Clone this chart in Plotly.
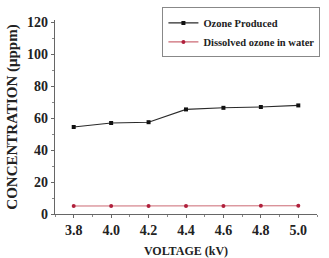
import plotly.graph_objects as go

voltage = [3.8, 4.0, 4.2, 4.4, 4.6, 4.8, 5.0]
ozone_produced = [54.5, 57.0, 57.5, 65.5, 66.5, 67.0, 68.0]
dissolved_ozone = [5.0, 5.0, 5.0, 5.0, 5.0, 5.1, 5.2]
x_ticks = [3.8, 4.0, 4.2, 4.4, 4.6, 4.8, 5.0]
x_tick_labels = ["3.8", "4.0", "4.2", "4.4", "4.6", "4.8", "5.0"]
y_ticks = [0, 20, 40, 60, 80, 100, 120]

font_family = "Liberation Serif, Times New Roman, serif"

fig = go.Figure()
fig.add_trace(go.Scatter(
    x=voltage, y=ozone_produced, mode="lines+markers", name="<b>Ozone Produced</b>",
    line=dict(color="#2a2a2a", width=1.1),
    marker=dict(symbol="square", size=4, color="#111111"),
))
fig.add_trace(go.Scatter(
    x=voltage, y=dissolved_ozone, mode="lines+markers", name="<b>Dissolved ozone in water</b>",
    line=dict(color="#cc6a74", width=1.1),
    marker=dict(symbol="circle", size=4, color="#b0203c"),
))

axis_common = dict(
    showline=True, linecolor="#666666", linewidth=1.2,
    ticks="outside", ticklen=3, tickcolor="#666666", tickwidth=1,
    showgrid=False, zeroline=False, mirror=False, automargin=False,
    tickfont=dict(family=font_family, size=14, color="#222222"),
    minor=dict(ticks="outside", ticklen=2, tickcolor="#888888"),
)

fig.update_layout(
    width=329, height=258,
    margin=dict(l=55, r=12, t=20, b=44, autoexpand=False),
    paper_bgcolor="white", plot_bgcolor="white",
    font=dict(family=font_family, color="#222222"),
    xaxis=dict(range=[3.7, 5.1], tickvals=x_ticks, ticktext=[f"<b>{t}</b>" for t in x_tick_labels],
               title=dict(text="<b>VOLTAGE (kV)</b>", font=dict(family=font_family, size=12), standoff=11),
               **axis_common),
    yaxis=dict(range=[0, 121.5], tickvals=y_ticks, ticktext=[f"<b>{t}</b>" for t in y_ticks],
               title=dict(text="<b>CONCENTRATION (μppm)</b>", font=dict(family=font_family, size=15), standoff=5),
               **axis_common),
    legend=dict(x=0.41, y=1.065, xanchor="left", yanchor="top",
                bordercolor="#888888", borderwidth=1, bgcolor="white",
                font=dict(family=font_family, size=10.5, color="#222222"),
                tracegroupgap=0, itemwidth=30),
    showlegend=True,
)
fig.update_xaxes(minor=dict(dtick=0.1, tick0=3.7))
fig.update_yaxes(minor=dict(dtick=10, tick0=0))

fig.write_html(
    "out.html",
    config={"displayModeBar": False},
    post_script="document.body.style.margin='0';document.body.style.overflow='hidden';",
)
